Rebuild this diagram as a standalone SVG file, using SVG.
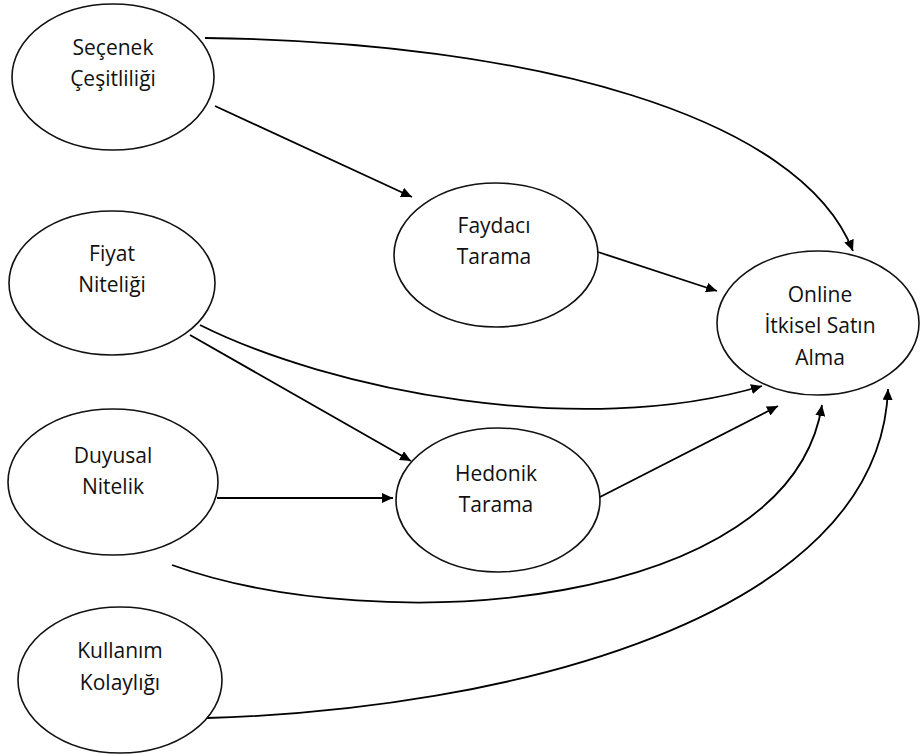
<svg xmlns="http://www.w3.org/2000/svg" width="920" height="756" viewBox="0 0 920 756">
  <defs>
    <marker id="arrow" markerUnits="userSpaceOnUse" markerWidth="12" markerHeight="10" refX="11" refY="5" orient="auto">
      <path d="M0,0 L11,5 L0,10 z" fill="#000"/>
    </marker>
    <style>
      .node ellipse { fill: #fff; stroke: #111; stroke-width: 1.6; }
      .node text { font-family: "Open Sans", "Liberation Sans", sans-serif; font-size: 21px; fill: #111; text-anchor: middle; }
      .edges path { fill: none; stroke: #000; stroke-width: 1.8; marker-end: url(#arrow); }
    </style>
  </defs>
  <rect width="920" height="756" fill="#fff"/>

  <g class="edges" id="connectors">
    <!-- Seçenek Çeşitliliği -> Online İtkisel Satın Alma -->
    <path d="M205,38 C530,42 800,115 853,251"/>
    <!-- Seçenek Çeşitliliği -> Faydacı Tarama -->
    <path d="M215,106 L412,197"/>
    <!-- Faydacı Tarama -> Online İtkisel Satın Alma -->
    <path d="M598,252 L717,291"/>
    <!-- Fiyat Niteliği -> Online İtkisel Satın Alma -->
    <path d="M200,325 C330,390 580,440 762,386"/>
    <!-- Fiyat Niteliği -> Hedonik Tarama -->
    <path d="M190,335 L411,461"/>
    <!-- Duyusal Nitelik -> Hedonik Tarama -->
    <path d="M217,498 L393,498"/>
    <!-- Hedonik Tarama -> Online İtkisel Satın Alma -->
    <path d="M600,497 L778,406"/>
    <!-- Duyusal Nitelik -> Online İtkisel Satın Alma -->
    <path d="M172,565 C380,640 790,610 822,405"/>
    <!-- Kullanım Kolaylığı -> Online İtkisel Satın Alma -->
    <path d="M207,718 C500,710 880,620 888,389"/>
  </g>

  <g class="node" id="secenek-cesitliligi">
    <ellipse cx="113" cy="77" rx="101" ry="73"/>
    <text x="113" y="55">Seçenek</text>
    <text x="113" y="86">Çeşitliliği</text>
  </g>

  <g class="node" id="fiyat-niteligi">
    <ellipse cx="112" cy="283" rx="103" ry="72"/>
    <text x="112" y="261">Fiyat</text>
    <text x="112" y="292">Niteliği</text>
  </g>

  <g class="node" id="duyusal-nitelik">
    <ellipse cx="113" cy="482" rx="105" ry="73"/>
    <text x="113" y="463">Duyusal</text>
    <text x="113" y="494">Nitelik</text>
  </g>

  <g class="node" id="kullanim-kolayligi">
    <ellipse cx="120" cy="680" rx="102" ry="73"/>
    <text x="120" y="658">Kullanım</text>
    <text x="120" y="690">Kolaylığı</text>
  </g>

  <g class="node" id="faydaci-tarama">
    <ellipse cx="496" cy="255" rx="102" ry="72"/>
    <text x="494" y="233">Faydacı</text>
    <text x="494" y="264">Tarama</text>
  </g>

  <g class="node" id="hedonik-tarama">
    <ellipse cx="498" cy="500" rx="102" ry="72"/>
    <text x="496" y="481">Hedonik</text>
    <text x="496" y="512">Tarama</text>
  </g>

  <g class="node" id="online-itkisel-satin-alma">
    <ellipse cx="818" cy="323" rx="101" ry="72"/>
    <text x="820" y="302">Online</text>
    <text x="820" y="333">İtkisel Satın</text>
    <text x="820" y="365">Alma</text>
  </g>
</svg>
